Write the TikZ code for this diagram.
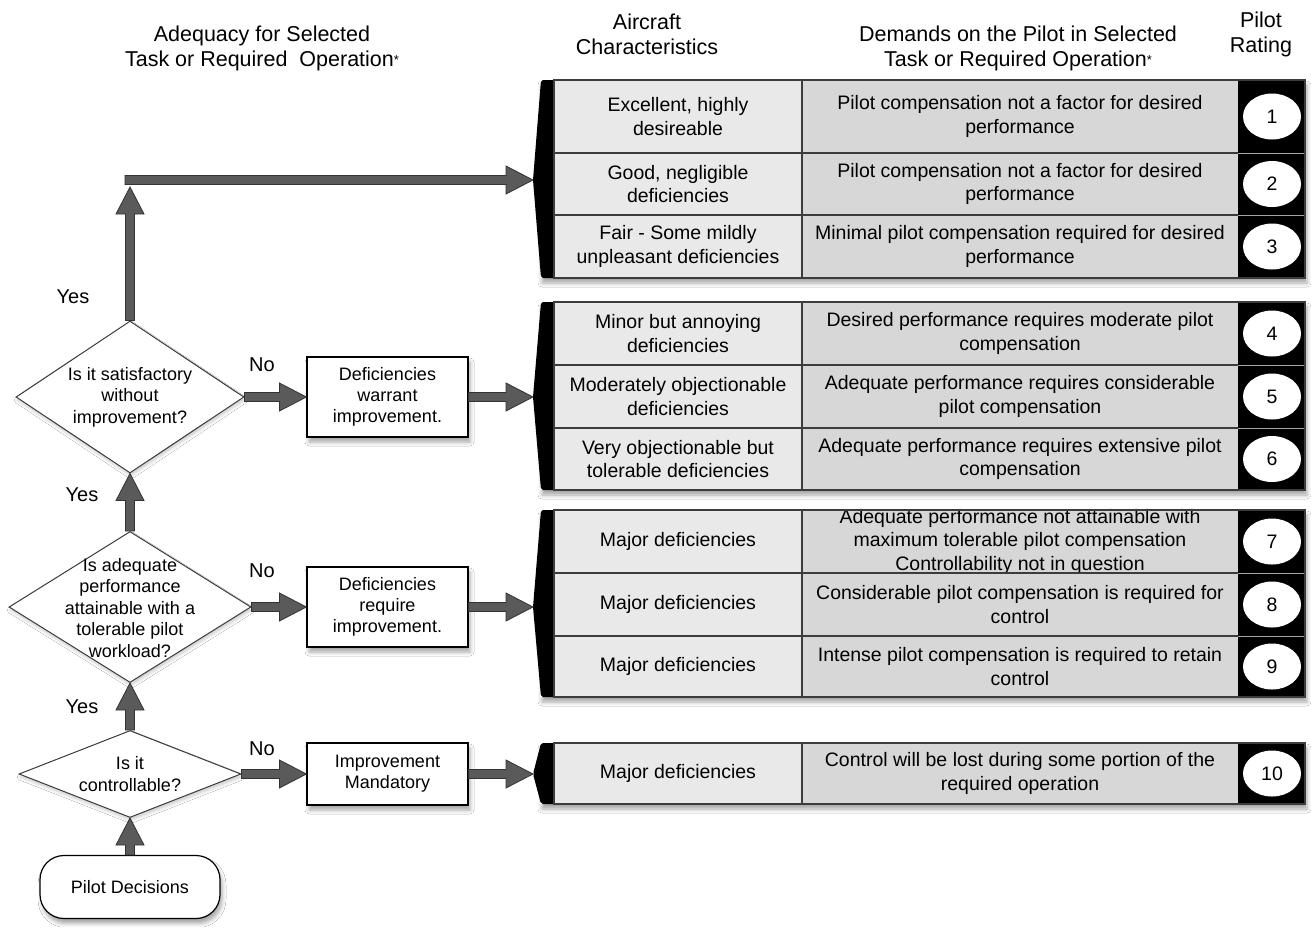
\documentclass[tikz,border=0pt]{standalone}
\usepackage{fontspec}
\setmainfont{Liberation Sans}
\usetikzlibrary{shapes.geometric,calc,shadows.blur}
\definecolor{arrfill}{HTML}{5A5A5A}
\definecolor{arrline}{HTML}{333333}
\definecolor{colA}{HTML}{E9E9E9}
\definecolor{colB}{HTML}{D7D7D7}
\definecolor{edge}{HTML}{3C3C3C}
\tikzset{
 arr/.style={fill=arrfill, draw=arrline, line width=0.8pt, line join=miter},
 shd/.style={blur shadow={shadow xshift=2pt, shadow yshift=-5pt, shadow blur radius=4pt, shadow opacity=35}},
 dia/.style={diamond, draw=edge, fill=white, line width=1pt, inner sep=0pt},
 diatext/.style={font=\fontsize{18}{21.5}\selectfont, align=center, inner sep=0pt},
 box/.style={rectangle, draw=black, fill=white, line width=1.2pt, minimum width=161pt, font=\fontsize{18}{21}\selectfont, align=center, inner sep=0pt, shd},
 celltext/.style={font=\fontsize{19.5}{23.5}\selectfont, align=center, inner sep=0pt},
 numc/.style={ellipse, fill=white, minimum width=58pt, minimum height=46pt, inner sep=0pt, font=\fontsize{19.5}{19.5}\selectfont},
 hdr/.style={font=\fontsize{21.5}{25}\selectfont, align=center, inner sep=0pt},
 yn/.style={font=\fontsize{20}{20}\selectfont, inner sep=0pt},
 grid/.style={draw=edge, line width=1.5pt},
 sep/.style={draw=gray!70, line width=1pt},
}
\newcommand\harrow[2]{\path[arr] let \p1=(#1), \p2=(#2) in (\x1,\y1+4.5pt) -- (\x2-27pt,\y1+4.5pt) -- (\x2-27pt,\y1+14pt) -- (\x2,\y1) -- (\x2-27pt,\y1-14pt) -- (\x2-27pt,\y1-4.5pt) -- (\x1,\y1-4.5pt) -- cycle;}
\newcommand\varrow[2]{\path[arr] let \p1=(#1), \p2=(#2) in (\x1-4.5pt,\y1) -- (\x1-4.5pt,\y2-27pt) -- (\x1-14pt,\y2-27pt) -- (\x1,\y2) -- (\x1+14pt,\y2-27pt) -- (\x1+4.5pt,\y2-27pt) -- (\x1+4.5pt,\y1) -- cycle;}
\newcommand\rrow[6]{%
 \fill[colA] (554,#1) rectangle (802,#2);
 \fill[colB] (802,#1) rectangle (1238,#2);
 \fill[black] (1238,#1) rectangle (1305,#2);
 \node[celltext] (#6a) at (678,{(#1+#2)/2}) {#3};
 \node[celltext] (#6b) at (1020,{(#1+#2)/2}) {#4};
 \node[numc] (#6n) at (1272,{(#1+#2)/2}) {#5};
}
\newcommand\grp[4]{%
 \path[fill=white, shd] (540,#1) rectangle (1305,#2);
 \fill[black, rounded corners=2pt] (556,#1) -- (541,#1) -- (533,#3) -- (541,#2) -- (556,#2) -- cycle;
 \coordinate (#4) at (533,#3);
}
\newcommand\grpframe[2]{%
 \draw[grid] (554,#1) rectangle (1305,#2);
 \draw[grid] (802,#1) -- (802,#2);
}
\newcommand\rline[1]{%
 \draw[grid] (554,#1) -- (1238,#1);
 \draw[sep] (1238,#1) -- (1305,#1);
}
\begin{document}
\begin{tikzpicture}[x=1pt,y=-1pt]
\useasboundingbox[fill=white] (0,0) rectangle (1311,927);

% headers
\node[hdr] (h1) at (262,48) {Adequacy for Selected\\Task or Required\ \ Operation{\fontsize{13}{13}\selectfont\raisebox{2pt}{*}}};
\node[hdr] (h2) at (647,34) {Aircraft\\Characteristics};
\node[hdr] (h3) at (1018,48) {Demands on the Pilot in Selected\\Task or Required Operation{\fontsize{13}{13}\selectfont\raisebox{2pt}{*}}};
\node[hdr] (h4) at (1261,34) {Pilot\\Rating};

% group 1
\grp{80}{278}{180}{g1}
\rrow{80}{153}{Excellent, highly\\desireable}{Pilot compensation not a factor for desired\\performance}{1}{r1}
\rrow{153}{215}{Good, negligible\\deficiencies}{Pilot compensation not a factor for desired\\performance}{2}{r2}
\rrow{215}{278}{Fair - Some mildly\\unpleasant deficiencies}{Minimal pilot compensation required for desired\\performance}{3}{r3}
\rline{153}\rline{215}
\grpframe{80}{278}

% group 2
\grp{302}{490}{397}{g2}
\rrow{302}{365}{Minor but annoying\\deficiencies}{Desired performance requires moderate pilot\\compensation}{4}{r4}
\rrow{365}{428}{Moderately objectionable\\deficiencies}{Adequate performance requires considerable\\pilot compensation}{5}{r5}
\rrow{428}{490}{Very objectionable but\\tolerable deficiencies}{Adequate performance requires extensive pilot\\compensation}{6}{r6}
\rline{365}\rline{428}
\grpframe{302}{490}

% group 3
\grp{510}{697}{607}{g3}
\rrow{510}{573}{Major deficiencies}{Adequate performance not attainable with\\maximum tolerable pilot compensation\\Controllability not in question}{7}{r7}
\rrow{573}{636}{Major deficiencies}{Considerable pilot compensation is required for\\control}{8}{r8}
\rrow{636}{697}{Major deficiencies}{Intense pilot compensation is required to retain\\control}{9}{r9}
\rline{573}\rline{636}
\grpframe{510}{697}

% group 4
\grp{743}{804}{774}{g4}
\rrow{743}{804}{Major deficiencies}{Control will be lost during some portion of the\\required operation}{10}{r10}
\grpframe{743}{804}

% flowchart
\node[dia, minimum width=228pt, minimum height=152pt, blur shadow={shadow xshift=1pt, shadow yshift=-3pt, shadow blur radius=3pt, shadow opacity=20}] (d1) at (130,397) {};
\node[diatext] (t1) at (d1) {Is it satisfactory\\without\\improvement?};
\node[dia, minimum width=242pt, minimum height=151pt, blur shadow={shadow xshift=1pt, shadow yshift=-3pt, shadow blur radius=3pt, shadow opacity=20}] (d2) at (130,607) {};
\node[diatext] (t2) at (130,608) {Is adequate\\performance\\attainable with a\\tolerable pilot\\workload?};
\node[dia, minimum width=222pt, minimum height=87pt, blur shadow={shadow xshift=1pt, shadow yshift=-3pt, shadow blur radius=3pt, shadow opacity=20}] (d3) at (130,774) {};
\node[diatext] (t3) at (d3) {Is it\\controllable?};

\node[box, minimum height=80pt] (b1) at (387.5,397) {Deficiencies\\warrant\\improvement.};
\node[box, minimum height=80pt] (b2) at (387.5,607) {Deficiencies\\require\\improvement.};
\node[box, minimum height=62pt] (b3) at (387.5,774) {Improvement\\Mandatory};
\node[rectangle, rounded corners=24pt, draw=black, fill=white, line width=1.2pt, minimum width=180pt, minimum height=63pt, shd, font=\fontsize{18}{21}\selectfont] (pd) at (130,887) {Pilot Decisions};

% labels
\node[yn] (y1) at (73,297) {Yes};
\node[yn] (y2) at (82,495) {Yes};
\node[yn] (y3) at (82,707) {Yes};
\node[yn] (n1) at (262,365) {No};
\node[yn] (n2) at (262,571) {No};
\node[yn] (n3) at (262,749) {No};

% arrows
\coordinate (up) at (130,187);
\coordinate (hl) at (125,180);
\harrow{hl}{g1}
\varrow{d1.north}{up}
\harrow{d1.east}{b1.west}
\harrow{b1.east}{g2}
\harrow{d2.east}{b2.west}
\harrow{b2.east}{g3}
\harrow{d3.east}{b3.west}
\harrow{b3.east}{g4}
\varrow{pd.north}{d3.south}
\varrow{d3.north}{d2.south}
\varrow{d2.north}{d1.south}
\end{tikzpicture}
\end{document}
